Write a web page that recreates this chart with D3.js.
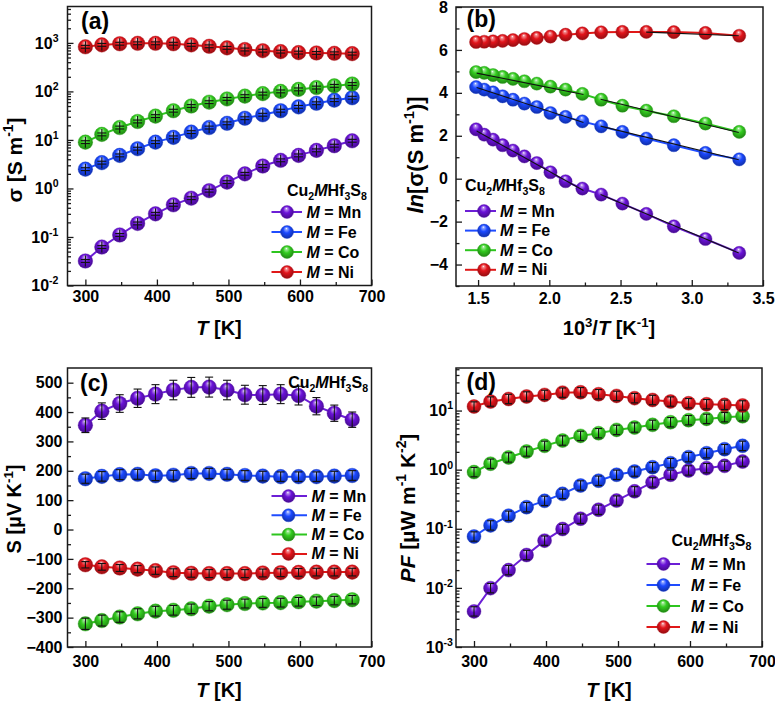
<!DOCTYPE html>
<html><head><meta charset="utf-8">
<script src="https://cdn.jsdelivr.net/npm/d3@7"></script>
<style>
body{margin:0;background:#fff}
svg{display:block}
text{font-family:"Liberation Sans",Arial,sans-serif;font-weight:bold;fill:#000}
</style>
</head><body><svg id="c" width="775" height="702"></svg>
<script>
// ---------------- data ----------------
const series = ["Mn","Fe","Co","Ni"];
const T = [300,323,348,373,398,423,448,473,498,523,548,573,598,623,648,673];
const invT = [3.333,3.096,2.874,2.681,2.513,2.364,2.232,2.114,2.008,1.912,1.825,1.745,1.672,1.605,1.543,1.486];

// (a) electrical conductivity sigma [S/m]
const sigmaMn = [0.032,0.062,0.11,0.19,0.30,0.46,0.63,0.90,1.35,2.0,2.9,3.8,4.8,6.1,7.6,9.6];
const sigmaFe = [2.5,3.4,4.8,6.6,9.0,11.3,14.5,18,22,28,33,40,48,57,66,74];
const sigmaCo = [9.0,13,18,24,31,40,50,60,70,80,90,100,110,120,130,142];
const sigmaNi = [830,910,960,980,980,960,910,850,790,730,690,660,630,620,610,600];

// (b) ln(sigma) vs 1000/T
const lnMn = [-3.46,-2.81,-2.22,-1.64,-1.16,-0.74,-0.46,-0.12,0.30,0.73,1.04,1.31,1.56,1.82,2.05,2.30];
const lnFe = [0.90,1.20,1.56,1.87,2.18,2.44,2.67,2.88,3.06,3.34,3.50,3.68,3.84,4.02,4.15,4.27];
const lnCo = [2.18,2.57,2.91,3.17,3.40,3.68,3.95,4.15,4.29,4.43,4.54,4.65,4.74,4.83,4.93,4.97];
const lnNi = [6.66,6.79,6.83,6.84,6.84,6.82,6.77,6.71,6.62,6.56,6.51,6.46,6.42,6.40,6.38,6.37];
// linear fit segments in (b): [x1, y1, x2, y2]
const fitMn = [[1.49,2.22,2.24,-0.55],[2.36,-0.74,3.33,-3.46]];
const fitFe = [[1.49,4.25,2.24,2.62],[2.36,2.45,3.33,0.88]];
const fitCo = [[1.49,4.92,2.24,3.92],[2.36,3.70,3.33,2.15]];
const fitNi = [[2.68,6.83,3.33,6.66]];

// (c) Seebeck coefficient [uV/K]
const SMn = [355,403,429,447,461,475,484,485,475,459,458,461,456,420,396,374];
const SFe = [173,181,187,188,183,185,191,191,188,184,182,180,180,180,182,184];
const SCo = [-321,-310,-298,-287,-278,-275,-270,-261,-256,-252,-250,-249,-246,-244,-242,-239];
const SNi = [-120,-127,-131,-135,-140,-147,-149,-150,-150,-150,-148,-147,-146,-145,-145,-145];
const SErrRel = {Mn:0.07, Fe:0.09, Co:0.06, Ni:0.09};

// (d) power factor [uW m-1 K-2]
const PFMn = [0.0040,0.0099,0.020,0.036,0.063,0.099,0.148,0.21,0.30,0.43,0.61,0.82,0.97,1.06,1.16,1.37];
const PFFe = [0.074,0.114,0.166,0.232,0.297,0.39,0.54,0.65,0.82,0.93,1.10,1.29,1.63,1.90,2.22,2.53];
const PFCo = [0.91,1.26,1.61,2.03,2.53,3.11,3.73,4.14,4.71,5.16,5.73,6.35,6.87,7.23,7.72,8.02];
const PFNi = [11.7,14.2,15.7,17.3,18.4,20.1,20.4,18.9,17.7,16.2,15.1,14.2,13.3,12.8,12.5,12.2];

const xTicksT = [300,400,500,600,700];
const xMinorT = [350,450,550,650];
const xTicksB = [1.5,2.0,2.5,3.0,3.5];
const xMinorB = [1.75,2.25,2.75,3.25];
const yExpA = [-2,-1,0,1,2,3];
const yTicksB = [-4,-2,0,2,4,6,8];
const yMinorB = [-5,-3,-1,1,3,5,7];
const yTicksC = [-400,-300,-200,-100,0,100,200,300,400,500];
const yMinorC = [-350,-250,-150,-50,50,150,250,350,450];
const yExpD = [-3,-2,-1,0,1];

const colors = {Mn:"#6a12d8", Fe:"#1a48ff", Co:"#33cc1f", Ni:"#e2141b"};
const lineColors = {Mn:"#6c1fd6", Fe:"#1f4cff", Co:"#2dc51e", Ni:"#e01818"};

// ---------------- helpers ----------------
const svg = d3.select("#c");
const defs = svg.append("defs");
series.forEach(s=>{
  const col = colors[s];
  const g = defs.append("radialGradient").attr("id","g"+s)
    .attr("cx","50%").attr("cy","45%").attr("r","58%").attr("fx","45%").attr("fy","22%");
  g.append("stop").attr("offset","0%").attr("stop-color","#ffffff");
  g.append("stop").attr("offset","14%").attr("stop-color", d3.interpolateRgb("#ffffff", col)(0.5));
  g.append("stop").attr("offset","45%").attr("stop-color", col);
  g.append("stop").attr("offset","100%").attr("stop-color", d3.color(col).darker(1.3).formatHex());
});

function rich(sel, parts, size){
  let shift = 0;
  parts.forEach(p=>{
    const ts = sel.append("tspan").text(p.t);
    const target = p.sup ? -size*0.42 : (p.sub ? size*0.28 : 0);
    if (target - shift !== 0) ts.attr("dy", target - shift);
    shift = target;
    if (p.sup || p.sub) ts.attr("font-size", size*0.66);
    if (p.it) ts.attr("font-style","italic");
  });
}

function frame(box){
  svg.append("rect").attr("x",box.l).attr("y",box.t)
    .attr("width",box.r-box.l).attr("height",box.b-box.t)
    .attr("fill","none").attr("stroke","#1a1a1a").attr("stroke-width",1.5);
}

function axes(box, x, y, o){
  const fs = 16;
  const gb = svg.append("g").attr("transform",`translate(0,${box.b})`)
    .call(d3.axisBottom(x).tickValues(o.xt).tickSizeInner(-6).tickSizeOuter(0).tickPadding(o.xpad).tickFormat(o.xfmt));
  gb.select(".domain").remove();
  svg.append("g").attr("transform",`translate(0,${box.b})`)
    .call(d3.axisBottom(x).tickValues(o.xm).tickSizeInner(-3.5).tickSizeOuter(0).tickFormat(""))
    .select(".domain").remove();
  const gl = svg.append("g").attr("transform",`translate(${box.l},0)`)
    .call(d3.axisLeft(y).tickValues(o.yt).tickSizeInner(-6).tickSizeOuter(0).tickPadding(o.ypad).tickFormat(o.log ? "" : o.yfmt));
  gl.select(".domain").remove();
  svg.append("g").attr("transform",`translate(${box.l},0)`)
    .call(d3.axisLeft(y).tickValues(o.ym).tickSizeInner(-3.5).tickSizeOuter(0).tickFormat(""))
    .select(".domain").remove();
  [gb,gl].forEach(g=>{
    g.attr("font-size",fs).attr("font-family",null);
    g.selectAll("text").attr("fill","#000");
  });
  svg.selectAll("g.tick line").attr("stroke","#1a1a1a").attr("stroke-width",1.3);
  if (o.log){
    gl.selectAll(".tick text").each(function(d){
      const t = d3.select(this);
      t.text("");
      rich(t, [{t:"10"},{t:String(Math.round(Math.log10(d))),sup:true}], fs);
    });
  }
}

function sphere(g, cx, cy, s, r){
  g.append("circle").attr("cx",cx).attr("cy",cy).attr("r",r)
    .attr("fill",`url(#g${s})`).attr("stroke", d3.color(colors[s]).darker(0.6).formatHex()).attr("stroke-width",0.4);
}

function errBar(g, cx, y1, y2, w){
  g.append("line").attr("x1",cx).attr("x2",cx).attr("y1",y1).attr("y2",y2).attr("stroke","#111").attr("stroke-width",1.1);
  [y1,y2].forEach(yy=>g.append("line").attr("x1",cx-w/2).attr("x2",cx+w/2).attr("y1",yy).attr("y2",yy).attr("stroke","#111").attr("stroke-width",1.1));
}

function drawSeries(box, x, y, xs, ys, s, r, err){
  const g = svg.append("g");
  g.append("path").datum(d3.range(xs.length))
    .attr("d", d3.line().x(i=>x(xs[i])).y(i=>y(ys[i])))
    .attr("fill","none").attr("stroke",lineColors[s]).attr("stroke-width",2);
  xs.forEach((xv,i)=>sphere(g, x(xv), y(ys[i]), s, r));
  if (err) xs.forEach((xv,i)=>err(g, x(xv), ys[i]));
  return g;
}

function legendEntry(xl1, xl2, xs, xt, yc, s, r){
  svg.append("line").attr("x1",xl1).attr("x2",xl2).attr("y1",yc).attr("y2",yc)
    .attr("stroke",lineColors[s]).attr("stroke-width",2);
  sphere(svg, xs, yc, s, r);
  const t = svg.append("text").attr("x",xt).attr("y",yc+5.5).attr("font-size",16);
  rich(t, [{t:"M",it:true},{t:" = "+s}], 16);
}

function compound(xp, yp, anchor){
  const t = svg.append("text").attr("x",xp).attr("y",yp).attr("font-size",16).attr("text-anchor",anchor||"start");
  rich(t, [{t:"Cu"},{t:"2",sub:true},{t:"M",it:true},{t:"Hf"},{t:"3",sub:true},{t:"S"},{t:"8",sub:true}], 16);
}

function panelLabel(xp, yp, s){
  svg.append("text").attr("x",xp).attr("y",yp).attr("font-size",23).text(s);
}

function yTitle(xp, yc, parts, size){
  const t = svg.append("text").attr("transform",`translate(${xp},${yc}) rotate(-90)`)
    .attr("text-anchor","middle").attr("font-size",size);
  rich(t, parts, size);
}
function xTitle(xc, yp, parts, size){
  const t = svg.append("text").attr("x",xc).attr("y",yp).attr("text-anchor","middle").attr("font-size",size);
  rich(t, parts, size);
}

const fmtInt = d3.format("d");

// ---------------- panel (a) ----------------
{
  const box = {l:67.5, r:371.5, t:6.5, b:285.5};
  const x = d3.scaleLinear().domain([275,700]).range([box.l, box.r]);
  const y = d3.scaleLog().domain([1e-2, Math.pow(10,3.75)]).range([box.b, box.t]);
  const ym = [];
  yExpA.forEach(e=>{ for(let k=2;k<=9;k++){ const v=k*Math.pow(10,e); if (v < y.domain()[1]) ym.push(v);} });
  axes(box, x, y, {xt:xTicksT, xm:xMinorT, xpad:5, xfmt:fmtInt, yt:yExpA.map(e=>Math.pow(10,e)), ym:ym, ypad:9, log:true});
  const data = {Mn:sigmaMn, Fe:sigmaFe, Co:sigmaCo, Ni:sigmaNi};
  series.forEach(s=>drawSeries(box, x, y, T, data[s], s, 7.3, (g,cx,v)=>{
    const cy = y(v);
    g.append("line").attr("x1",cx).attr("x2",cx).attr("y1",cy-5.5).attr("y2",cy+5.5).attr("stroke","#111").attr("stroke-width",1.1);
    [y(v*1.07), y(v/1.07)].forEach(yy=>g.append("line").attr("x1",cx-4.5).attr("x2",cx+4.5).attr("y1",yy).attr("y2",yy).attr("stroke","#111").attr("stroke-width",1.1));
  }));
  frame(box);
  panelLabel(81, 29, "(a)");
  compound(287, 196);
  series.forEach((s,i)=>legendEntry(271.5, 302, 287, 306.5, 212+i*20, s, 6.5));
  yTitle(22, 160, [{t:"σ [S m"},{t:"-1",sup:true},{t:"]"}], 21);
  xTitle(219, 335, [{t:"T",it:true},{t:" [K]"}], 20);
}

// ---------------- panel (b) ----------------
{
  const box = {l:456, r:763, t:7, b:286};
  const x = d3.scaleLinear().domain([1.345,3.5]).range([box.l, box.r]);
  const y = d3.scaleLinear().domain([-5,8]).range([box.b, box.t]);
  axes(box, x, y, {xt:xTicksB, xm:xMinorB, xpad:7, xfmt:d3.format(".1f"), yt:yTicksB, ym:yMinorB, ypad:8, yfmt:fmtInt});
  const data = {Mn:lnMn, Fe:lnFe, Co:lnCo, Ni:lnNi};
  const fits = {Mn:fitMn, Fe:fitFe, Co:fitCo, Ni:fitNi};
  series.forEach(s=>drawSeries(box, x, y, invT, data[s], s, 6.6, null));
  series.forEach(s=>fits[s].forEach(f=>{
    svg.append("line").attr("x1",x(f[0])).attr("y1",y(f[1])).attr("x2",x(f[2])).attr("y2",y(f[3]))
      .attr("stroke","#111").attr("stroke-width",1.1);
  }));
  frame(box);
  panelLabel(466.5, 27, "(b)");
  compound(465, 191);
  series.forEach((s,i)=>legendEntry(465, 496, 484, 500, 211+i*19.6, s, 6.5));
  yTitle(423, 155, [{t:"ln",it:true},{t:"[σ(S m"},{t:"-1",sup:true},{t:")]"}], 22);
  xTitle(609, 335, [{t:"10"},{t:"3",sup:true},{t:"/"},{t:"T",it:true},{t:" [K"},{t:"-1",sup:true},{t:"]"}], 20);
}

// ---------------- panel (c) ----------------
{
  const box = {l:67.5, r:371.5, t:368, b:647};
  const x = d3.scaleLinear().domain([275,700]).range([box.l, box.r]);
  const y = d3.scaleLinear().domain([-400,550]).range([box.b, box.t]);
  axes(box, x, y, {xt:xTicksT, xm:xMinorT, xpad:9, xfmt:fmtInt, yt:yTicksC, ym:yMinorC, ypad:5, yfmt:fmtInt});
  const data = {Mn:SMn, Fe:SFe, Co:SCo, Ni:SNi};
  series.forEach(s=>drawSeries(box, x, y, T, data[s], s, 7.3, (g,cx,v)=>{
    const e = Math.abs(v)*SErrRel[s];
    errBar(g, cx, y(v+e), y(v-e), 8);
  }));
  frame(box);
  panelLabel(80, 391, "(c)");
  compound(368, 388, "end");
  series.forEach((s,i)=>legendEntry(271.5, 307, 288.5, 311.5, 496+i*19.3, s, 6.5));
  yTitle(21, 509, [{t:"S [µV K"},{t:"-1",sup:true},{t:"]"}], 20);
  xTitle(219, 697, [{t:"T",it:true},{t:" [K]"}], 20);
}

// ---------------- panel (d) ----------------
{
  const box = {l:456, r:762, t:368, b:647};
  const x = d3.scaleLinear().domain([275,700]).range([box.l, box.r]);
  const y = d3.scaleLog().domain([1e-3, Math.pow(10,1.72)]).range([box.b, box.t]);
  const ym = [];
  yExpD.forEach(e=>{ for(let k=2;k<=9;k++){ const v=k*Math.pow(10,e); if (v < y.domain()[1]) ym.push(v);} });
  axes(box, x, y, {xt:xTicksT, xm:xMinorT, xpad:9, xfmt:fmtInt, yt:yExpD.map(e=>Math.pow(10,e)), ym:ym, ypad:3, log:true});
  const data = {Mn:PFMn, Fe:PFFe, Co:PFCo, Ni:PFNi};
  series.forEach(s=>drawSeries(box, x, y, T, data[s], s, 7, (g,cx,v)=>{
    errBar(g, cx, y(v*1.2), y(v/1.2), 7);
  }));
  frame(box);
  panelLabel(466.5, 390, "(d)");
  compound(671.5, 546);
  series.forEach((s,i)=>legendEntry(646.5, 680, 663.5, 691, 564+i*21, s, 6.5));
  yTitle(415, 508, [{t:"PF",it:true},{t:" [µW m"},{t:"-1",sup:true},{t:" K"},{t:"-2",sup:true},{t:"]"}], 21);
  xTitle(609, 697, [{t:"T",it:true},{t:" [K]"}], 20);
}
</script>
</body></html>
